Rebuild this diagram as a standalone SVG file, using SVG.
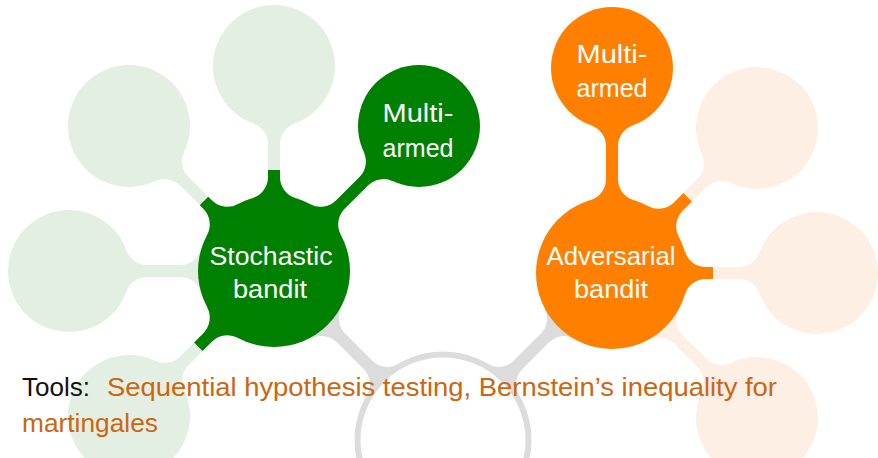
<svg xmlns="http://www.w3.org/2000/svg" xmlns:xlink="http://www.w3.org/1999/xlink" width="878" height="458" viewBox="0 0 878 458">
  <style>
    .fg { fill: #e3efe3; }
    .fo { fill: #fdefe4; }
    .gr { fill: #dcdcdc; }
    .sg { fill: #008000; }
    .so { fill: #ff8000; }
    .lbl { font-family: "Liberation Sans", Arial, sans-serif; font-size: 26px; fill: #ffffff; text-anchor: middle; }
    .tools { font-family: "Liberation Sans", Arial, sans-serif; font-size: 26px; }
    .alert { fill: #cc6611; }
  </style>
  <defs>
    <!-- neck between a hub (r=76, at origin) and a satellite (r=61, at x=205), filleted ends -->
    <path id="arm" d="M72.83,-21.71 A22,22 0 0 0 93.91,-6 L126.87,-6 A22,22 0 0 0 147.58,-20.58 L147.58,20.58 A22,22 0 0 0 126.87,6 L93.91,6 A22,22 0 0 0 72.83,21.71 Z"/>
    <!-- neck between the root ring (r=88, at origin) and a hub (r=76, at x=238) -->
    <path id="rootArm" d="M85.10,-22.4 A22,22 0 0 0 106.38,-6 L144.09,-6 A22,22 0 0 0 165.17,-21.71 L165.17,21.71 A22,22 0 0 0 144.09,6 L106.38,6 A22,22 0 0 0 85.10,22.4 Z"/>
  </defs>

  <g id="connectors">
    <!-- faded arms of the stochastic hub -->
    <use xlink:href="#arm" class="fg" transform="translate(274,271) rotate(-90)"/>
    <use xlink:href="#arm" class="fg" transform="translate(274,271) rotate(-135)"/>
    <use xlink:href="#arm" class="fg" transform="translate(274,271) rotate(180)"/>
    <use xlink:href="#arm" class="fg" transform="translate(274,271) rotate(135)"/>
    <!-- faded arms of the adversarial hub -->
    <use xlink:href="#arm" class="fo" transform="translate(612,273) rotate(-45)"/>
    <use xlink:href="#arm" class="fo" transform="translate(612,273) rotate(0)"/>
    <use xlink:href="#arm" class="fo" transform="translate(612,273) rotate(45)"/>
    <!-- root ring to both hubs -->
    <use xlink:href="#rootArm" class="gr" transform="translate(443,440) rotate(-135)"/>
    <use xlink:href="#rootArm" class="gr" transform="translate(443,440) rotate(-45)"/>
    <!-- solid arms to the multi-armed nodes -->
    <use xlink:href="#arm" class="sg" transform="translate(274,271) rotate(-45)"/>
    <use xlink:href="#arm" class="so" transform="translate(612,273) rotate(-90)"/>
    <!-- solid stubs cut off where the faded arms continue -->
    <path class="sg" transform="translate(274,271) rotate(-90)" d="M72.83,-21.71 A22,22 0 0 0 93.91,-6 L101,-6 L101,6 L93.91,6 A22,22 0 0 0 72.83,21.71 Z"/>
    <path class="sg" transform="translate(274,271) rotate(-135)" d="M72.83,-21.71 A22,22 0 0 0 93.91,-6 L99,-6 L99,6 L93.91,6 A22,22 0 0 0 72.83,21.71 Z"/>
    <path class="sg" transform="translate(274,271) rotate(135)" d="M72.83,-21.71 A22,22 0 0 0 93.91,-6 L107,-6 L107,6 L93.91,6 A22,22 0 0 0 72.83,21.71 Z"/>
    <path class="so" transform="translate(612,273) rotate(-45)" d="M72.83,-21.71 A22,22 0 0 0 93.91,-6 L107,-6 L107,6 L93.91,6 A22,22 0 0 0 72.83,21.71 Z"/>
    <path class="so" transform="translate(612,273) rotate(0)" d="M72.83,-21.71 A22,22 0 0 0 93.91,-6 L101,-6 L101,6 L93.91,6 A22,22 0 0 0 72.83,21.71 Z"/>
  </g>

  <g id="root">
    <circle cx="443" cy="440" r="85.5" fill="#ffffff" stroke="#dcdcdc" stroke-width="6"/>
  </g>

  <!-- faded satellites -->
  <g id="sto-top"><circle class="fg" cx="274" cy="66" r="61"/></g>
  <g id="sto-upleft"><circle class="fg" cx="129" cy="126" r="61"/></g>
  <g id="sto-left"><circle class="fg" cx="69" cy="271" r="61"/></g>
  <g id="sto-lowleft"><circle class="fg" cx="129" cy="416" r="61"/></g>
  <g id="adv-upright"><circle class="fo" cx="757" cy="128" r="61"/></g>
  <g id="adv-right"><circle class="fo" cx="817" cy="273" r="61"/></g>
  <g id="adv-lowright"><circle class="fo" cx="757" cy="418" r="61"/></g>

  <g id="stochastic">
    <circle class="sg" cx="274" cy="271" r="76"/>
    <text class="lbl" x="271" y="265" textLength="123" lengthAdjust="spacingAndGlyphs">Stochastic</text>
    <text class="lbl" x="270" y="298" textLength="74" lengthAdjust="spacingAndGlyphs">bandit</text>
  </g>
  <g id="sto-multi">
    <circle class="sg" cx="419" cy="126" r="61"/>
    <text class="lbl" x="418" y="122" textLength="71" lengthAdjust="spacingAndGlyphs">Multi-</text>
    <text class="lbl" x="418" y="157" textLength="71" lengthAdjust="spacingAndGlyphs">armed</text>
  </g>
  <g id="adversarial">
    <circle class="so" cx="612" cy="273" r="76"/>
    <text class="lbl" x="611" y="265" textLength="129" lengthAdjust="spacingAndGlyphs">Adversarial</text>
    <text class="lbl" x="611" y="298" textLength="74" lengthAdjust="spacingAndGlyphs">bandit</text>
  </g>
  <g id="adv-multi">
    <circle class="so" cx="612" cy="68" r="61"/>
    <text class="lbl" x="612" y="63" textLength="71" lengthAdjust="spacingAndGlyphs">Multi-</text>
    <text class="lbl" x="612" y="97" textLength="71" lengthAdjust="spacingAndGlyphs">armed</text>
  </g>

  <g id="tools">
    <text class="tools" x="22" y="396" fill="#111111" textLength="68" lengthAdjust="spacingAndGlyphs">Tools:</text>
    <text class="tools alert" x="107" y="396" textLength="670" lengthAdjust="spacingAndGlyphs">Sequential hypothesis testing, Bernstein’s inequality for</text>
    <text class="tools alert" x="22" y="432" textLength="136" lengthAdjust="spacingAndGlyphs">martingales</text>
  </g>
</svg>
